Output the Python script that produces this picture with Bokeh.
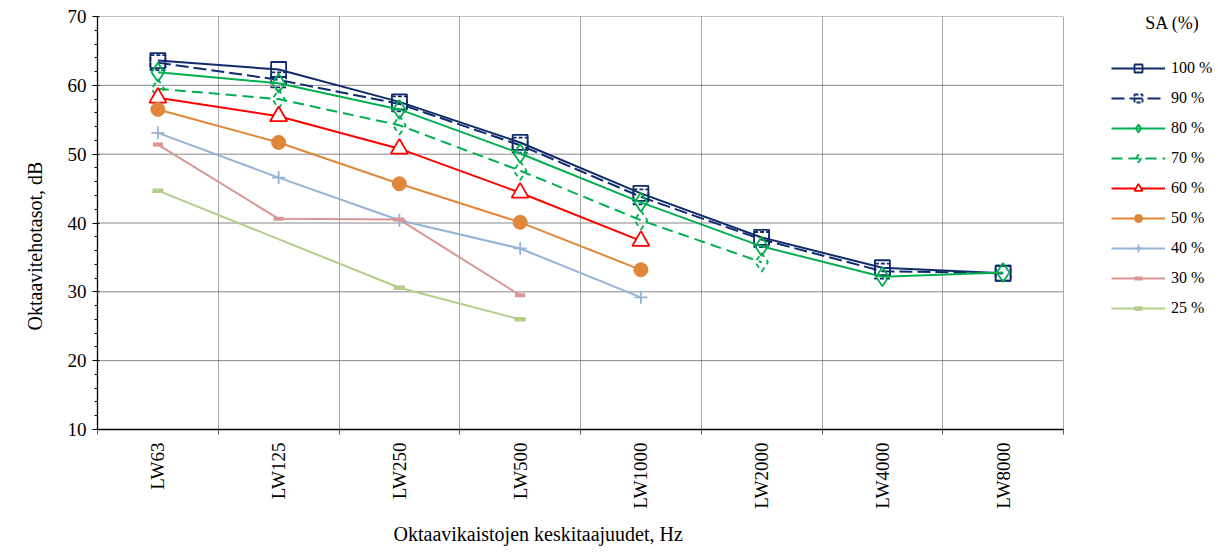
import math
from bokeh.plotting import figure
from bokeh.models import (FixedTicker, LinearAxis, Range1d, Legend, LegendItem, Label, Title)
from bokeh.embed import file_html
from bokeh.resources import INLINE

# ---- data ----
categories = ["LW63", "LW125", "LW250", "LW500", "LW1000", "LW2000", "LW4000", "LW8000"]
series_names = ["100 %", "90 %", "80 %", "70 %", "60 %", "50 %", "40 %", "30 %", "25 %"]
sa_100 = [63.6, 62.3, 57.6, 51.7, 44.3, 37.9, 33.5, 32.7]
sa_90 = [63.3, 60.8, 57.3, 51.3, 43.8, 37.6, 33.0, 32.7]
sa_80 = [61.9, 60.3, 56.5, 50.1, 43.0, 36.6, 32.2, 32.8]
sa_70 = [59.5, 58.0, 54.2, 47.6, 40.4, 34.3, None, None]
sa_60 = [58.2, 55.5, 50.8, 44.4, 37.4, None, None, None]
sa_50 = [56.5, 51.7, 45.7, 40.1, 33.2, None, None, None]
sa_40 = [53.1, 46.6, 40.4, 36.3, 29.2, None, None, None]
sa_30 = [51.4, 40.6, 40.5, 29.5, None, None, None, None]
sa_25 = [44.7, None, 30.6, 26.0, None, None, None, None]
y_ticks = [10, 20, 30, 40, 50, 60, 70]

FONT = "Liberation Serif"
W, H = 1218, 553
LEFT, TOP, BOTTOM = 97, 16, 124
PLOT_W = 966                      # width of the category area in px
n = len(categories)
frame_w = W - LEFT
x_end = -0.5 + n * frame_w / PLOT_W   # extend range so legend sits inside the frame

p = figure(width=W, height=H, output_backend="svg", toolbar_location=None,
           x_range=Range1d(-0.5, x_end), y_range=Range1d(10, 70),
           min_border_left=LEFT, min_border_top=TOP, min_border_right=0,
           min_border_bottom=BOTTOM)
p.outline_line_color = None
p.background_fill_color = "white"
p.border_fill_color = "white"

# boundaries between categories
bounds = [i - 0.5 for i in range(n + 1)]

# main x axis: ticks at boundaries, no labels
xa = p.xaxis[0]
xa.bounds = (-0.5, n - 0.5)
xa.ticker = FixedTicker(ticks=bounds)
xa.major_label_overrides = {b: "" for b in bounds}
xa.major_label_standoff = 0
xa.major_label_text_font_size = "1px"
xa.major_tick_out = 5
xa.major_tick_in = 0
xa.minor_tick_line_color = None
xa.axis_line_color = "black"
xa.axis_line_width = 1.3
xa.major_tick_line_color = "#555555"

# label axis: category names at centers
lab_axis = LinearAxis(ticker=FixedTicker(ticks=list(range(n))),
                      major_label_overrides={i: c for i, c in enumerate(categories)},
                      bounds=(-0.5, n - 0.5))
lab_axis.axis_line_color = None
lab_axis.major_tick_line_color = None
lab_axis.minor_tick_line_color = None
lab_axis.major_label_orientation = math.pi / 2
lab_axis.major_label_standoff = 2
lab_axis.major_label_text_font = FONT
lab_axis.major_label_text_font_size = "19px"
lab_axis.major_label_text_color = "black"
p.add_layout(lab_axis, "below")

xtitle = Title(text="Oktaavikaistojen keskitaajuudet, Hz", align="left", offset=296,
               text_font=FONT, text_font_size="20px", text_font_style="normal",
               text_color="black", standoff=18)
p.add_layout(xtitle, "below")

ya = p.yaxis[0]
ya.bounds = (10, 70)
ya.ticker = FixedTicker(ticks=y_ticks, minor_ticks=list(range(10, 71, 2)))
ya.major_label_text_font = FONT
ya.major_label_text_font_size = "19px"
ya.major_label_text_color = "black"
ya.major_label_standoff = 6
ya.major_tick_out = 5
ya.major_tick_in = 2
ya.minor_tick_out = 3
ya.minor_tick_in = 0
ya.axis_line_color = "black"
ya.axis_line_width = 1.3

ytitle = Title(text="Oktaavitehotasot, dB", align="left", offset=99,
               text_font=FONT, text_font_size="20px", text_font_style="normal",
               text_color="black", standoff=38)
p.add_layout(ytitle, "left")

# grid: vertical lines at category boundaries, horizontal dotted lines over the category area
p.xgrid.ticker = FixedTicker(ticks=bounds[1:])
p.xgrid.grid_line_color = "#555555"
p.xgrid.grid_line_dash = "1 1"
p.ygrid.grid_line_color = None
hy = y_ticks[1:]
p.segment(x0=[-0.5] * len(hy), x1=[n - 0.5] * len(hy), y0=hy, y1=hy,
          line_color="#111111", line_width=1, line_dash="1 1", level="underlay")

NAVY = "#0F2B6B"
GREEN = "#00B050"
styles = [
    # values, color, dash, marker, size, fill, marker_lw, marker_dash
    (sa_100, NAVY, "solid", "square", 15, None, 1.8, "solid"),
    (sa_90, NAVY, "13 5", "square", 15, None, 1.8, "4 2"),
    (sa_80, GREEN, "solid", "diamond", 19, None, 1.8, "solid"),
    (sa_70, GREEN, "11 6", "diamond", 19, None, 1.8, "5 4"),
    (sa_60, "#FF0000", "solid", "triangle", 17, "white", 1.8, "solid"),
    (sa_50, "#E0873A", "solid", "circle", 14, "#E0873A", 1, "solid"),
    (sa_40, "#95B3D7", "solid", "cross", 13, None, 1.8, "solid"),
    (sa_30, "#D99694", "solid", "dash", 10, None, 4, "solid"),
    (sa_25, "#B3CE8A", "solid", "dash", 11, None, 4.5, "solid"),
]

items = []
for name, (vals, col, dash, mk, sz, fill, mlw, mdash) in zip(series_names, styles):
    xs = [i for i, v in enumerate(vals) if v is not None]
    ys = [v for v in vals if v is not None]
    lr = p.line(xs, ys, line_color=col, line_width=2, line_dash=dash)
    sr = p.scatter(xs, ys, marker=mk, size=sz, line_color=col, line_width=mlw,
                   line_dash=mdash, fill_color=fill if fill else None,
                   fill_alpha=1 if fill else 0)
    items.append(LegendItem(label=name, renderers=[lr, sr]))

legend = Legend(items=items, location=(1014, 111))
legend.border_line_color = None
legend.background_fill_alpha = 0
legend.padding = 5
legend.margin = 0
legend.spacing = 10
legend.glyph_width = 54
legend.glyph_height = 20
legend.label_standoff = 6
legend.label_text_font = FONT
legend.label_text_font_size = "16px"
legend.label_text_color = "black"
p.add_layout(legend, "center")

title = Label(x=1075, y=407, x_units="screen", y_units="screen", text="SA (%)",
              text_font=FONT, text_font_size="18px", text_align="center",
              text_baseline="middle", text_color="black")
p.add_layout(title)

open("out.html", "w").write(file_html(p, INLINE))
